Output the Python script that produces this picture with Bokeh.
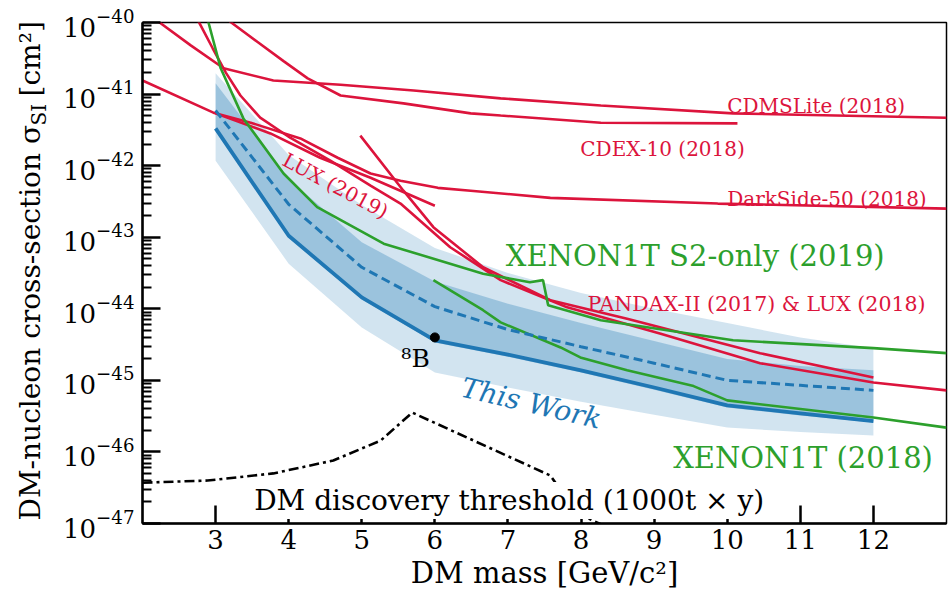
import math
from bokeh.plotting import figure
from bokeh.layouts import row
from bokeh.models import Range1d, FixedTicker, Label
from bokeh.core.properties import value
from bokeh.embed import file_html
from bokeh.resources import INLINE

FONT = "DejaVu Serif"
RED = "#dc143c"
GREEN = "#2ca02c"
BLUE = "#1f77b4"

# ---------------- data (sigma given as log10 of cm^2) ----------------
x_ticks = [3, 4, 5, 6, 7, 8, 9, 10, 11, 12]
y_decades = [-47, -46, -45, -44, -43, -42, -41, -40]

tw_mass = [3, 4, 5, 6, 7, 8, 9, 10, 11, 12]
tw_obs = [-41.48, -42.98, -43.84, -44.44, -44.64, -44.86, -45.10, -45.35, -45.46, -45.57]
tw_exp = [-41.23, -42.54, -43.42, -43.97, -44.29, -44.53, -44.76, -45.00, -45.07, -45.14]
tw_1s_hi = [-40.85, -42.19, -43.07, -43.62, -43.93, -44.20, -44.45, -44.70, -44.80, -44.86]
tw_1s_lo = [-41.51, -43.00, -43.87, -44.47, -44.67, -44.89, -45.13, -45.38, -45.49, -45.59]
tw_2s_hi = [-40.71, -41.85, -42.55, -43.15, -43.50, -43.78, -44.00, -44.20, -44.40, -44.55]
tw_2s_lo = [-41.93, -43.37, -44.26, -44.89, -45.10, -45.30, -45.48, -45.66, -45.72, -45.77]

cdms_m = [2.10, 2.22, 2.66, 3.11, 3.79, 4.71, 5.71, 6.90, 8.27, 10.08, 13.0]
cdms_s = [-39.80, -39.99, -40.32, -40.64, -40.81, -40.87, -40.95, -41.06, -41.16, -41.27, -41.33]

cdex_m = [3.12, 3.20, 3.57, 3.93, 4.26, 4.71, 5.57, 6.49, 6.90, 8.27, 10.14]
cdex_s = [-39.85, -39.99, -40.27, -40.54, -40.78, -41.02, -41.13, -41.27, -41.30, -41.40, -41.41]

ds_m = [2.0, 2.97, 3.48, 4.16, 4.67, 5.12, 5.53, 6.04, 6.49, 7.58, 9.87, 13.0]
ds_s = [-40.81, -41.26, -41.40, -41.62, -41.89, -42.11, -42.21, -42.31, -42.35, -42.45, -42.53, -42.60]

lux19_m = [3.0, 3.75, 4.43, 5.12, 6.0]
lux19_s = [-41.27, -41.55, -41.89, -42.17, -42.56]

pandax_m = [2.70, 2.77, 2.96, 3.14, 3.34, 3.61, 4.02, 4.57, 5.12, 5.53, 6.21, 6.90, 7.81, 9.09, 10.45, 12.0, 13.0]
pandax_s = [-39.85, -39.99, -40.36, -40.70, -41.02, -41.33, -41.61, -41.93, -42.28, -42.53, -43.14, -43.60, -43.98, -44.35, -44.76, -45.03, -45.14]

lux18_m = [4.98, 5.57, 5.98, 6.66, 7.58, 8.63, 10.45, 12.0]
lux18_s = [-41.58, -42.35, -42.86, -43.42, -43.88, -44.14, -44.62, -44.96]

s2_m = [2.85, 2.90, 3.07, 3.38, 3.93, 4.39, 5.30, 6.66, 7.30, 7.48, 7.55, 8.27, 10.08, 12.0, 13.0]
s2_s = [-39.90, -39.99, -40.64, -41.34, -42.11, -42.58, -43.09, -43.51, -43.63, -43.60, -43.95, -44.16, -44.44, -44.55, -44.62]

x1t_m = [5.98, 6.66, 6.90, 7.72, 7.99, 8.63, 9.54, 10.0, 12.0, 13.0]
x1t_s = [-43.60, -44.02, -44.19, -44.54, -44.68, -44.86, -45.08, -45.28, -45.52, -45.66]

thr_m = [2.0, 2.89, 3.79, 4.61, 5.26, 5.69, 7.58, 7.95, 8.40]
thr_s = [-46.43, -46.40, -46.30, -46.12, -45.84, -45.45, -46.33, -46.86, -47.07]

b8_m = [6.0]
b8_s = [-44.40]


def lin(v):
    return [10.0 ** e for e in v]


# ---------------- main figure ----------------
p = figure(width=888, height=595,
           x_range=Range1d(2, 13), y_range=Range1d(1e-47, 1e-40),
           y_axis_type="log", output_backend="svg", toolbar_location=None,
           min_border_left=82, min_border_right=2, min_border_top=22, min_border_bottom=72)
p.xgrid.visible = False
p.ygrid.visible = False
p.outline_line_color = "black"
p.outline_line_width = 1.5
p.background_fill_color = "white"
p.border_fill_color = "white"

# bands
p.varea(x=tw_mass, y1=lin(tw_2s_lo), y2=lin(tw_2s_hi), fill_color=BLUE, fill_alpha=0.2)
p.varea(x=tw_mass, y1=lin(tw_1s_lo), y2=lin(tw_1s_hi), fill_color=BLUE, fill_alpha=0.3)

# red experiments
for m, s in [(cdms_m, cdms_s), (cdex_m, cdex_s), (ds_m, ds_s), (lux19_m, lux19_s),
             (pandax_m, pandax_s), (lux18_m, lux18_s)]:
    p.line(m, lin(s), line_color=RED, line_width=2.6)

# green XENON1T
p.line(s2_m, lin(s2_s), line_color=GREEN, line_width=2.6)
p.line(x1t_m, lin(x1t_s), line_color=GREEN, line_width=2.6)

# this work
p.line(tw_mass, lin(tw_exp), line_color=BLUE, line_width=3, line_dash="9 5")
p.line(tw_mass, lin(tw_obs), line_color=BLUE, line_width=3.8)

# threshold
p.line(thr_m, lin(thr_s), line_color="black", line_width=2.6, line_dash="10 4 3 4")

# 8B point
p.scatter(b8_m, lin(b8_s), size=9, color="black")

# ---------------- axes ----------------
xa = p.xaxis[0]
xa.ticker = FixedTicker(ticks=x_ticks, minor_ticks=[])
xa.axis_label = "DM mass [GeV/c²]"
ya = p.yaxis[0]
minor = [k * 10.0 ** d for d in y_decades[:-1] for k in range(2, 10)]
ya.ticker = FixedTicker(ticks=[10.0 ** d for d in y_decades], minor_ticks=minor)
ya.axis_label = None

for ax in (xa, ya):
    ax.axis_line_width = 2.5
    ax.axis_line_color = "black"
    ax.major_tick_in = 18
    ax.major_tick_out = 0
    ax.minor_tick_in = 9
    ax.minor_tick_out = 0
    ax.major_tick_line_width = 2.5
    ax.minor_tick_line_width = 2
    ax.major_label_text_font = FONT
    ax.major_label_text_font_size = "26px"
    ax.major_label_text_color = "black"
    ax.axis_label_text_font = FONT
    ax.axis_label_text_font_size = "29px"
    ax.axis_label_text_font_style = "normal"
    ax.axis_label_text_color = "black"
xa.major_label_standoff = 6
xa.axis_label_standoff = 4
ya.major_label_standoff = 8

# ---------------- text labels ----------------
def lab(x, y, text, color, size, angle=0.0, align="left", baseline="alphabetic", style="normal", **kw):
    p.add_layout(Label(x=x, y=10 ** y, text=text, text_color=color, text_font=FONT,
                       text_font_size=size, angle=angle, text_align=align,
                       text_baseline=baseline, text_font_style=style, **kw))

lab(10.0, -41.16, "CDMSLite (2018)", RED, "20px")
lab(7.99, -41.77, "CDEX-10 (2018)", RED, "20px")
lab(10.0, -42.46, "DarkSide-50 (2018)", RED, "20px")
lab(6.97, -43.26, "XENON1T S2-only (2019)", GREEN, "29px")
lab(8.09, -43.93, "PANDAX-II (2017) & LUX (2018)", RED, "20.5px")
lab(9.26, -46.08, "XENON1T (2018)", GREEN, "29px")
lab(4.64, -42.28, "LUX (2019)", RED, "20px", angle=-0.49, align="center", baseline="middle")
lab(7.32, -45.32, "This Work", BLUE, "28px", angle=-0.23, align="center", baseline="middle", style="italic")
lab(5.93, -44.69, "⁸B", "black", "25px", align="right")
lab(3.50, -46.68, "DM discovery threshold (1000t × y)", "black", "28px",
    background_fill_color="white", background_fill_alpha=1.0, padding=2)

# ---------------- y-axis title strip (with subscript) ----------------
# strip coordinates: x = pixels from page left, y = pixels from page bottom
lf = figure(width=60, height=595, x_range=Range1d(0, 60), y_range=Range1d(72, 573),
            output_backend="svg", toolbar_location=None,
            min_border_left=0, min_border_right=0, min_border_top=22, min_border_bottom=72,
            x_axis_location=None, y_axis_location=None)
lf.grid.visible = False
lf.outline_line_color = None
lf.background_fill_color = "white"
lf.border_fill_color = "white"

ylab_text = ["DM-nucleon cross-section σ", "SI", "[cm²]"]
ylab_x = [30, 38, 30]
ylab_y = [75, 470, 499]
ylab_size = ["28px", "20px", "28px"]
for t, xx, yy, fs in zip(ylab_text, ylab_x, ylab_y, ylab_size):
    lf.text(x=[xx], y=[yy], text=[t], angle=math.pi / 2, text_font=value(FONT),
            text_font_size=value(fs), text_align="left", text_baseline="alphabetic",
            text_color="black")

layout = row(lf, p, spacing=0)
open("out.html", "w").write(file_html(layout, INLINE))
